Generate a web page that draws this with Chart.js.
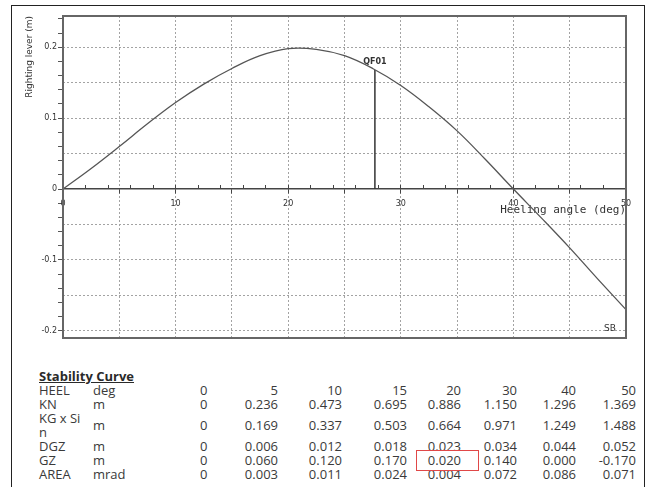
<!DOCTYPE html>
<html>
<head>
<meta charset="utf-8">
<script src="https://cdn.jsdelivr.net/npm/chart.js@4/dist/chart.umd.min.js"></script>
<style>
  html, body { margin: 0; padding: 0; background: #fff; }
  body { width: 648px; height: 487px; position: relative; overflow: hidden; font-family: "Open Sans", sans-serif; color: #3a3a3a; }
  #frame { position: absolute; left: 11px; top: 5px; width: 634px; height: 520px; border: 1.5px solid #222; box-sizing: border-box; }
  #plot { position: absolute; left: 0; top: 0; width: 648px; height: 349px; }
  #tbl { position: absolute; left: 39px; top: 369px; width: 597px; border-collapse: collapse; table-layout: fixed; font-size: 13px; line-height: 14px; }
  #tbl td { padding: 0; white-space: nowrap; vertical-align: middle; }
  #tbl td.lbl, #tbl td.zero { text-align: left; }
  #tbl td.num { text-align: right; }
  #tbl td.ttl { font-weight: bold; text-decoration: underline; text-align: left; color: #2a2a2a; }
  #mark { position: absolute; left: 416px; top: 450px; width: 63px; height: 21px; border: 1.5px solid #e04848; box-sizing: border-box; }
</style>
</head>
<body>
<div id="frame"></div>
<div id="plot"><canvas id="chart"></canvas></div>
<table id="tbl"></table>
<div id="mark"></div>
<script>
// ===== Data =====
const heelDeg = [0, 2.5, 5, 7.5, 10, 12.5, 15, 17.5, 20, 22.5, 25, 27.5, 30, 32.5, 35, 37.5, 40, 42.5, 45, 47.5, 50];
const gzCurve = [0, 0.029, 0.060, 0.092, 0.122, 0.148, 0.170, 0.188, 0.198, 0.197, 0.188, 0.170, 0.146, 0.116, 0.082, 0.042, 0.000, -0.041, -0.083, -0.127, -0.170];
const qf01Angle = 27.7;
const qf01Lever = 0.168;

// ===== Table values =====
const tableHeel = [0, 5, 10, 15, 20, 30, 40, 50];
const tableKN = [0, 0.236, 0.473, 0.695, 0.886, 1.150, 1.296, 1.369];
const tableKGSin = [0, 0.169, 0.337, 0.503, 0.664, 0.971, 1.249, 1.488];
const tableDGZ = [0, 0.006, 0.012, 0.018, 0.023, 0.034, 0.044, 0.052];
const tableGZ = [0, 0.060, 0.120, 0.170, 0.020, 0.140, 0.000, -0.170];
const tableArea = [0, 0.003, 0.011, 0.024, 0.004, 0.072, 0.086, 0.071];

// ===== Table =====
const fmt = arr => arr.map((v, i) => i === 0 ? '0' : v.toFixed(3));
const rows = [
  ['HEEL', 'deg', tableHeel.map(String)],
  ['KN', 'm', fmt(tableKN)],
  ['KG x Si<br>n', 'm', fmt(tableKGSin)],
  ['DGZ', 'm', fmt(tableDGZ)],
  ['GZ', 'm', fmt(tableGZ)],
  ['AREA', 'mrad', fmt(tableArea)]
];
const colW = [54, 107, 14, 64, 64, 65, 54, 56, 59, 60];
let html = '<colgroup>' + colW.map(w => `<col style="width:${w}px">`).join('') + '</colgroup>';
html += '<tr><td class="ttl" colspan="3">Stability Curve</td><td colspan="7"></td></tr>';
rows.forEach(r => {
  html += `<tr><td class="lbl">${r[0]}</td><td class="lbl">${r[1]}</td>` +
    r[2].map((v, i) => `<td class="${i ? 'num' : 'zero'}">${v}</td>`).join('') + '</tr>';
});
document.getElementById('tbl').innerHTML = html;

// ===== Chart =====
const gridGrey = '#a3a3a3';
const tickFont = { family: 'DejaVu Sans', size: 8 };

const decor = {
  id: 'decor',
  afterDatasetsDraw(chart) {
    const { ctx, chartArea: a, scales: { x, y } } = chart;
    ctx.save();
    ctx.strokeStyle = '#666';
    ctx.lineWidth = 2;
    ctx.strokeRect(a.left, a.top, a.right - a.left, a.bottom - a.top);
    ctx.fillStyle = '#333';
    ctx.textAlign = 'center';
    ctx.textBaseline = 'middle';
    ctx.font = 'bold 8px "DejaVu Sans"';
    ctx.fillText('QF01', x.getPixelForValue(qf01Angle), y.getPixelForValue(qf01Lever) - 8);
    ctx.font = '9px "DejaVu Sans"';
    ctx.fillText('SB', a.right - 16, a.bottom - 9);
    ctx.restore();
  }
};

new Chart(document.getElementById('chart'), {
  type: 'line',
  data: {
    datasets: [
      {
        label: 'GZ',
        data: heelDeg.map((h, i) => ({ x: h, y: gzCurve[i] })),
        borderColor: '#555', borderWidth: 1.3, pointRadius: 0, tension: 0.4
      },
      {
        label: 'QF01',
        data: [{ x: qf01Angle, y: 0 }, { x: qf01Angle, y: qf01Lever }],
        borderColor: '#333', borderWidth: 1.5, pointRadius: 0
      }
    ]
  },
  options: {
    responsive: true, maintainAspectRatio: false, animation: false, devicePixelRatio: 1,
    layout: { padding: { top: 16, right: 22, bottom: 11, left: 0 } },
    plugins: { legend: { display: false }, tooltip: { enabled: false } },
    scales: {
      x: {
        type: 'linear', min: 0, max: 50, position: { y: 0 },
        afterFit: s => { s.height = 28; },
        ticks: {
          stepSize: 5, padding: 6, color: '#333', font: tickFont, maxRotation: 0, autoSkip: false,
          callback: v => v % 10 === 0 ? String(v) : ''
        },
        grid: { color: gridGrey, lineWidth: 1, drawTicks: true, tickLength: 4, tickColor: '#444', tickBorderDash: [] },
        border: { display: true, color: '#444', width: 1.5, dash: [2, 2] },
        title: {
          display: true, text: 'Heeling angle (deg)', align: 'end', color: '#333',
          font: { family: 'DejaVu Sans Mono', size: 11 }, padding: 0
        }
      },
      xMinor: {
        type: 'linear', min: 0, max: 50, position: { y: 0 },
        afterFit: s => { s.height = 0; },
        ticks: { display: false, stepSize: 2 },
        grid: { drawOnChartArea: false, drawTicks: true, tickLength: -4, tickColor: '#444' },
        border: { display: false }
      },
      y: {
        min: -0.21, max: 0.244, position: 'left', weight: 1,
        afterFit: s => { s.width = 63; },
        ticks: {
          stepSize: 0.05, includeBounds: false, padding: 6, color: '#333', font: tickFont, autoSkip: false,
          callback: v => {
            const t = Math.round(v * 10);
            return Math.abs(v * 10 - t) < 1e-6 ? String(t / 10) : '';
          }
        },
        grid: {
          drawTicks: false,
          color: c => Math.abs(c.tick.value) < 1e-9 ? 'rgba(0,0,0,0)' : gridGrey
        },
        border: { display: false, dash: [2, 2] },
        title: {
          display: true, text: 'Righting lever (m)', align: 'end', color: '#333',
          font: { family: 'DejaVu Sans', size: 9 }, padding: { top: 24, bottom: 0 }
        }
      },
      yMinor: {
        min: -0.21, max: 0.244, position: 'left', weight: 0,
        afterFit: s => { s.width = 0; },
        ticks: { display: false, stepSize: 0.02, includeBounds: false },
        grid: { drawOnChartArea: false, drawTicks: true, tickLength: 5, tickColor: '#555' },
        border: { display: false }
      }
    }
  },
  plugins: [decor]
});
</script>
</body>
</html>
